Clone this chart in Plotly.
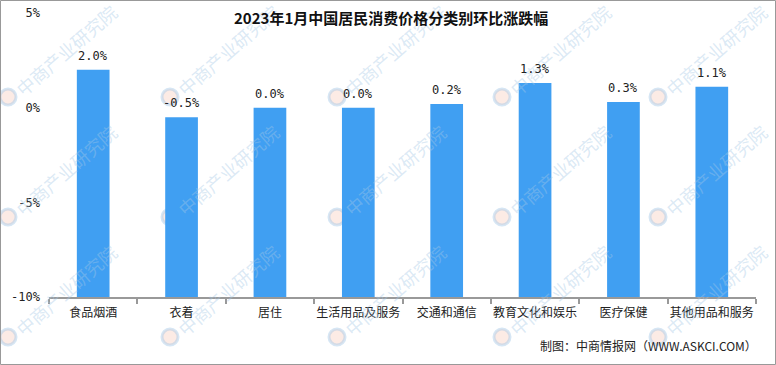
import plotly.graph_objects as go

categories = ["食品烟酒", "衣着", "居住", "生活用品及服务", "交通和通信", "教育文化和娱乐", "医疗保健", "其他用品和服务"]
values = [2.0, -0.5, 0.0, 0.0, 0.2, 1.3, 0.3, 1.1]
y_tickvals = [-10, -5, 0, 5]
y_ticktext = ["-10%", "-5%", "0%", "5%"]
title_text = "2023年1月中国居民消费价格分类别环比涨跌幅"
source_text = "制图：中商情报网（WWW.ASKCI.COM）"
watermark_text = "中商产业研究院"
BASE = -10

W, H = 776, 365
ML, MR, MT, MB = 49, 20, 13, 68
PW, PH = W - ML - MR, H - MT - MB

def px(x):
    return (x - ML) / PW

def py(y):
    return (H - MB - y) / PH

fig = go.Figure()
fig.add_trace(go.Bar(
    x=categories,
    y=[v - BASE for v in values],
    base=BASE,
    width=0.37,
    marker=dict(color="#409ff2", line=dict(width=0)),
    hoverinfo="skip",
))

annotations = []
shapes = []
# faint diagonal watermarks with logo circles
cols = [8, 170, 337, 502, 658]
rows = [97, 217, 337]
for ry in rows:
    for cx in cols:
        annotations.append(dict(
            x=px(cx + 58), y=py(ry - 47), xref="paper", yref="paper",
            xanchor="center", yanchor="middle",
            text=watermark_text, showarrow=False, textangle=-41,
            font=dict(family="Noto Sans CJK SC", size=18, color="rgba(165,200,230,0.40)"),
        ))
        shapes.append(dict(
            type="circle", xref="paper", yref="paper", layer="below",
            x0=px(cx - 8), x1=px(cx + 8), y0=py(ry + 8), y1=py(ry - 8),
            line=dict(color="rgba(165,200,230,0.45)", width=3),
            fillcolor="rgba(245,190,170,0.30)",
        ))

# data labels
for c, v in zip(categories, values):
    annotations.append(dict(
        x=c, y=v, xref="x", yref="y", text=f"{v:.1f}%", showarrow=False,
        xanchor="center", yanchor="bottom", yshift=5,
        font=dict(family="DejaVu Sans Mono", size=12, color="#222"),
    ))

annotations.append(dict(
    x=px(391), y=py(18), xref="paper", yref="paper",
    text="<b>" + title_text + "</b>", showarrow=False,
    font=dict(family="Noto Sans CJK SC", size=15, color="#111"),
    xanchor="center", yanchor="middle",
))
annotations.append(dict(
    x=px(759), y=py(346), xref="paper", yref="paper",
    text=source_text, showarrow=False,
    font=dict(family="Noto Sans CJK SC", size=12, color="#222"),
    xanchor="right", yanchor="middle",
))

shapes.append(dict(type="rect", xref="paper", yref="paper",
                   x0=px(0.5), x1=px(W - 0.5), y0=py(H - 0.5), y1=py(0.5),
                   line=dict(color="#999", width=1), fillcolor="rgba(0,0,0,0)", layer="above"))

fig.update_layout(
    width=W, height=H,
    margin=dict(l=ML, r=MR, t=MT, b=MB, pad=0, autoexpand=False),
    paper_bgcolor="white", plot_bgcolor="rgba(0,0,0,0)",
    showlegend=False,
    annotations=annotations,
    shapes=shapes,
    xaxis=dict(
        showline=True, linecolor="#999", linewidth=1.5,
        ticks="outside", ticklen=5, tickcolor="#999", tickwidth=1.5,
        tickson="boundaries", showgrid=False, tickangle=0, automargin=False,
        tickfont=dict(family="Noto Sans CJK SC", size=12, color="#222"),
        ticklabelstandoff=4,
        range=[-0.5, 7.5],
    ),
    yaxis=dict(
        range=[-10, 5], tickvals=y_tickvals, ticktext=y_ticktext,
        showgrid=False, zeroline=False, showline=False, ticks="", automargin=False,
        tickfont=dict(family="DejaVu Sans Mono", size=12, color="#222"),
        ticklabelstandoff=8,
    ),
)

fig.write_html("out.html", config={"displayModeBar": False},
               post_script="document.body.style.margin='0';document.body.style.overflow='hidden';")
